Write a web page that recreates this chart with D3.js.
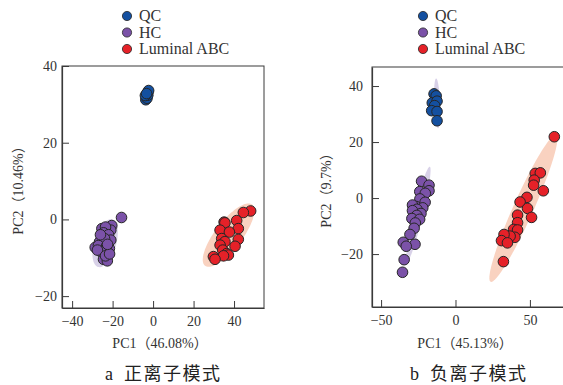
<!DOCTYPE html>
<html><head><meta charset="utf-8">
<script src="https://cdn.jsdelivr.net/npm/d3@7"></script>
<style>
html,body{margin:0;padding:0;background:#fff;}
svg{display:block;}
</style></head>
<body>
<script>
// ---------- data ----------
const groups = ["QC", "HC", "Luminal ABC"];
const groupColors = ["#1450a0", "#7b52a8", "#e52128"];

// Panel a (positive ion mode)
const qcA = [[-3.6,31.2],[-3.0,31.6],[-2.6,32.4],[-2.6,33.2],[-2.2,33.6],[-3.8,32.3],[-3.2,32.8]];
const hcA = [[-15.6,0.5],[-25.3,-2.4],[-20.4,-1.6],[-20.9,-2.8],[-23.5,-2.0],[-24.5,-3.5],[-22.0,-4.0],[-26.5,-5.9],[-20.9,-5.4],[-24.0,-5.0],[-28.6,-7.3],[-27.0,-6.8],[-21.6,-7.6],[-23.0,-7.0],[-25.8,-8.4],[-27.5,-8.0],[-24.5,-10.4],[-22.6,-10.8],[-23.5,-9.5],[-21.5,-9.0],[-26.0,-4.0],[-22.5,-6.5]];
const lumA = [[48.2,2.2],[44.6,1.8],[41.3,-0.3],[35.1,-0.7],[35.5,-0.9],[42.1,-2.4],[33.1,-2.8],[37.7,-3.3],[33.9,-5.0],[42.1,-5.2],[35.5,-5.8],[33.1,-6.7],[40.5,-7.0],[34.4,-8.0],[36.4,-8.9],[37.2,-9.3],[34.8,-9.5],[29.8,-9.7],[30.6,-10.4]];
// ellipses: [cx, cy, major-x, major-y, minor-x, minor-y] in data units
const ellHcA = [-23.7,-6.2,3.5,6.2,5.2,-0.83];
const ellLumA = [37.3,-4.1,11.6,8.0,5.3,-2.1];

// Panel b (negative ion mode)
const qcB = [[-14.4,37.2],[-13.0,36.5],[-15.6,34.0],[-12.4,34.6],[-14.0,33.0],[-16.0,31.2],[-12.4,30.9],[-12.4,27.6]];
const hcB = [[-22.8,6.0],[-17.8,4.6],[-24.0,2.3],[-17.8,2.6],[-20.3,1.7],[-23.9,-0.3],[-20.4,-1.5],[-26.5,-3.0],[-22.0,-3.5],[-28.9,-2.5],[-25.9,-4.0],[-28.9,-4.5],[-23.2,-5.5],[-26.0,-6.2],[-29.3,-7.3],[-24.1,-7.6],[-27.0,-8.9],[-27.8,-10.8],[-30.6,-13.0],[-35.1,-15.8],[-27.2,-16.5],[-33.1,-17.2],[-34.5,-22.0],[-35.6,-26.5]];
const lumB = [[66.4,21.9],[53.6,8.8],[57.0,9.0],[52.9,6.4],[52.5,4.6],[59.0,2.6],[48.0,0.25],[43.4,-1.4],[48.4,-3.7],[51.1,-6.9],[41.7,-6.1],[41.7,-8.8],[39.0,-11.2],[41.7,-11.4],[39.9,-14.0],[36.7,-13.6],[32.6,-13.0],[30.9,-15.2],[34.9,-16.0],[32.2,-22.7]];
const ellQcB = [-12.35,33.8,-0.65,8.9,2.0,0.02];
const ellHcB = [-24.95,-5.75,7.65,16.95,2.96,-0.37];
const ellLumB = [45.6,-3.7,22.0,26.2,6.18,-1.45];

const xTicksA = [-40,-20,0,20,40];
const yTicksA = [-20,0,20,40];
const xTicksB = [-50,0,50];
const yTicksB = [-20,0,20,40];

const xTitleA = "PC1（46.08%）", yTitleA = "PC2（10.46%）", capLetterA = "a", capTextA = "正离子模式";
const xTitleB = "PC1（45.13%）", yTitleB = "PC2（9.7%）", capLetterB = "b", capTextB = "负离子模式";

// ---------- layout ----------
const W = 563, H = 385;
const SERIF = "'Liberation Serif','Times New Roman','Noto Sans CJK SC',serif";
const CJK = "'Noto Sans CJK SC',sans-serif";
const ellFill = {HC: "#d8d1e8", QC: "#d8d1e8", Lum: "#f9d2c0"};

const panels = [
  {x0:62, x1:264, y0:66, y1:308, xDom:[-45,54.8], yDom:[-23.1,40], xTicks:xTicksA, yTicks:yTicksA, yPad:5,
   series:[qcA,hcA,lumA], ells:[[ellHcA,ellFill.HC],[ellLumA,ellFill.Lum]],
   xTitle:xTitleA, yTitle:yTitleA, xTitleX:160, yTitleX:18, capL:capLetterA, capT:capTextA, capX:105, legX:127},
  {x0:372, x1:582, y0:67, y1:307, xDom:[-56.1,85], yDom:[-38.9,46.8], xTicks:xTicksB, yTicks:yTicksB, yPad:9,
   series:[qcB,hcB,lumB], ells:[[ellQcB,ellFill.QC],[ellHcB,ellFill.HC],[ellLumB,ellFill.Lum]],
   xTitle:xTitleB, yTitle:yTitleB, xTitleX:465, yTitleX:326, capL:capLetterB, capT:capTextB, capX:410, legX:423}
];

const svg = d3.select("body").append("svg").attr("width", W).attr("height", H)
  .attr("font-family", SERIF);

panels.forEach(p => {
  const x = d3.scaleLinear().domain(p.xDom).range([p.x0, p.x1]);
  const y = d3.scaleLinear().domain(p.yDom).range([p.y1, p.y0]);
  const g = svg.append("g");

  // frame
  g.append("rect").attr("x", p.x0).attr("y", p.y0).attr("width", p.x1 - p.x0).attr("height", p.y1 - p.y0)
    .attr("fill", "none").attr("stroke", "#3a3a3a").attr("stroke-width", 1);

  // ellipses
  const line = d3.line().x(d => x(d[0])).y(d => y(d[1])).curve(d3.curveLinearClosed);
  p.ells.forEach(([e, col]) => {
    const pts = d3.range(0, 96).map(i => {
      const t = i / 96 * 2 * Math.PI;
      return [e[0] + e[2] * Math.cos(t) + e[4] * Math.sin(t), e[1] + e[3] * Math.cos(t) + e[5] * Math.sin(t)];
    });
    g.append("path").attr("d", line(pts)).attr("fill", col).attr("stroke", "none");
  });

  // axes
  const xa = d3.axisBottom(x).tickValues(p.xTicks).tickSizeInner(-7).tickSizeOuter(0).tickPadding(8);
  const ya = d3.axisLeft(y).tickValues(p.yTicks).tickSizeInner(-7).tickSizeOuter(0).tickPadding(p.yPad);
  const gx = g.append("g").attr("transform", `translate(0,${p.y1})`).call(xa);
  const gy = g.append("g").attr("transform", `translate(${p.x0},0)`).call(ya);
  [gx, gy].forEach(a => {
    a.select(".domain").attr("stroke", "#3a3a3a").attr("stroke-width", 1.2);
    a.selectAll(".tick line").attr("stroke", "#3a3a3a").attr("stroke-width", 1);
    a.selectAll(".tick text").attr("font-family", SERIF).attr("font-size", 14).attr("fill", "#333");
  });

  // points
  p.series.forEach((s, i) => {
    g.append("g").selectAll("circle").data(s).join("circle")
      .attr("cx", d => x(d[0])).attr("cy", d => y(d[1])).attr("r", 5.3)
      .attr("fill", groupColors[i]).attr("stroke", "#262626").attr("stroke-width", 1);
  });

  // titles
  g.append("text").attr("x", p.xTitleX).attr("y", 348).attr("text-anchor", "middle")
    .attr("font-size", 14).attr("fill", "#333").text(p.xTitle);
  g.append("text").attr("transform", `translate(${p.yTitleX + 5},${(p.y0 + p.y1) / 2}) rotate(-90)`)
    .attr("text-anchor", "middle").attr("font-size", 14).attr("fill", "#333").text(p.yTitle);

  // caption
  const cap = g.append("text").attr("x", p.capX).attr("y", 380).attr("font-size", 18).attr("fill", "#222");
  cap.append("tspan").attr("font-family", SERIF).text(p.capL);
  cap.append("tspan").attr("dx", 11).attr("font-family", CJK).attr("letter-spacing", 1.5).text(p.capT);

  // legend
  const leg = g.append("g");
  groups.forEach((name, i) => {
    const yy = 16 + i * 16.5;
    leg.append("circle").attr("cx", p.legX).attr("cy", yy).attr("r", 4.6)
      .attr("fill", groupColors[i]).attr("stroke", "#262626").attr("stroke-width", 0.8);
    leg.append("text").attr("x", p.legX + 12).attr("y", yy + 5.2).attr("font-size", 16).attr("fill", "#333").text(name);
  });
});
</script>
</body></html>
